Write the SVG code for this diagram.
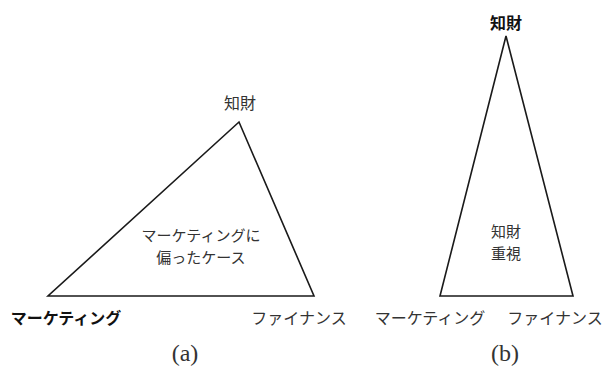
<svg xmlns="http://www.w3.org/2000/svg" width="604" height="368" viewBox="0 0 604 368">
<style>
.tri{fill:none;stroke:#1a1a1a;stroke-width:1.6;stroke-linejoin:miter}
text{font-family:"Noto Sans CJK JP","Noto Sans CJK SC",sans-serif;font-size:16px;fill:#333;text-anchor:middle}
.m{font-size:15px}
.b{font-weight:bold;fill:#111}
.cap{font-family:"Liberation Serif","DejaVu Serif",serif;font-size:24px;fill:#333}
</style>
<rect width="604" height="368" fill="#fff"/>
<g id="connectors">
<polygon class="tri" points="239,122 48,296 314,296"/>
<polygon class="tri" points="506,36 440,296 573,296"/>
</g>
<g id="a-top"><text x="240" y="109">知財</text></g>
<g id="a-left"><text class="b" x="66" y="324">マーケティング</text></g>
<g id="a-right"><text x="299" y="324">ファイナンス</text></g>
<g id="a-center"><text class="m" x="201" y="241">マーケティングに</text><text class="m" x="201" y="263">偏ったケース</text></g>
<g id="a-cap"><text class="cap" x="185" y="361">(a)</text></g>
<g id="b-top"><text class="b" x="506" y="29">知財</text></g>
<g id="b-center"><text class="m" x="506" y="237">知財</text><text class="m" x="506" y="259">重視</text></g>
<g id="b-left"><text x="430" y="324">マーケティング</text></g>
<g id="b-right"><text x="555" y="324">ファイナンス</text></g>
<g id="b-cap"><text class="cap" x="505" y="361">(b)</text></g>
</svg>
